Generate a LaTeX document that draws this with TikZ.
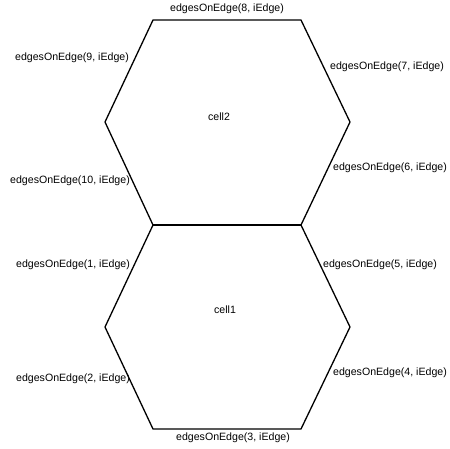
\documentclass[tikz,border=0pt]{standalone}
\usepackage{fontspec}
\setmainfont{Liberation Sans}
\begin{document}
\begin{tikzpicture}[x=1pt,y=-1pt,
  edge/.style={line width=1.3pt,line join=miter},
  lbl/.style={inner sep=0pt,font=\fontsize{10.6}{12}\selectfont}]
\useasboundingbox (0,0) rectangle (450,448);
% vertices
\coordinate (a1) at (153,20);
\coordinate (a2) at (301,20);
\coordinate (a3) at (350,122);
\coordinate (m2) at (301,225);
\coordinate (m1) at (153,225);
\coordinate (a6) at (105,122);
\coordinate (b3) at (350,327);
\coordinate (b4) at (301,429);
\coordinate (b5) at (153,429);
\coordinate (b6) at (105,327);
\draw[edge] (m1) -- (a6) -- (a1) -- (a2) -- (a3) -- (m2);
\draw[edge] (m1) -- (b6) -- (b5) -- (b4) -- (b3) -- (m2);
\draw[edge] (m1) -- (m2);
% labels
\node[lbl] (c2) at (219,117) {cell2};
\node[lbl] (c1) at (225,310) {cell1};
\node[lbl] (e8) at (227,9) {edgesOnEdge(8, iEdge)};
\node[lbl] (e9) at (72,58) {edgesOnEdge(9, iEdge)};
\node[lbl] (e7) at (387,67) {edgesOnEdge(7, iEdge)};
\node[lbl] (e10) at (70,181) {edgesOnEdge(10, iEdge)};
\node[lbl] (e6) at (390,168) {edgesOnEdge(6, iEdge)};
\node[lbl] (e1) at (73,265) {edgesOnEdge(1, iEdge)};
\node[lbl] (e5) at (380,265) {edgesOnEdge(5, iEdge)};
\node[lbl] (e2) at (73,379) {edgesOnEdge(2, iEdge)};
\node[lbl] (e4) at (390,373) {edgesOnEdge(4, iEdge)};
\node[lbl] (e3) at (233,438) {edgesOnEdge(3, iEdge)};
\end{tikzpicture}
\end{document}
